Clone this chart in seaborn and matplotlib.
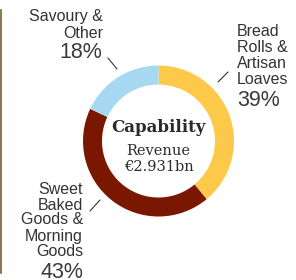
import numpy as np
import matplotlib
matplotlib.use("Agg")
import matplotlib.pyplot as plt
import seaborn as sns

segments = ["Bread Rolls & Artisan Loaves", "Sweet Baked Goods & Morning Goods", "Savoury & Other"]
shares = [39, 43, 18]
colors = ["#fdc94a", "#7a1700", "#a7d8f1"]
title = "Capability"
subtitle = ["Revenue", "€2.931bn"]

sns.set_theme(style="white")
plt.rcParams['font.family'] = ['Liberation Sans Narrow', 'Liberation Sans', 'DejaVu Sans']

fig = plt.figure(figsize=(2.96, 2.80), dpi=100)
ax = fig.add_axes([0, 0, 1, 1])

H = 280
cx, cy, r = 158.5, H - 141, 75.5
ax.pie(shares, colors=colors, startangle=90, counterclock=False,
       center=(cx, cy), radius=r, wedgeprops=dict(width=19, linewidth=0),
       frame=True)
ax.set_xlim(0, 296)
ax.set_ylim(0, 280)
ax.axis('off')

# left rule
ax.plot([1, 1], [H - 10, H - 273], color="#8a7a52", lw=1.5)

# centre text
ax.text(cx, H - 128, title, ha='center', va='center', fontsize=12,
        fontweight='bold', family=['DejaVu Serif'], color="#2b2b2b")
ax.text(cx, H - 151, subtitle[0], ha='center', va='center', fontsize=10.5,
        family=['DejaVu Serif'], color="#2b2b2b")
ax.text(cx, H - 167, subtitle[1], ha='center', va='center', fontsize=10.5,
        family=['DejaVu Serif'], color="#2b2b2b")


def label(x, ys, lines, ha):
    for y, s in zip(ys, lines):
        ax.text(x, H - y, s, ha=ha, va='center', fontsize=11.5, color="#333333")


def pct(x, y, v, ha):
    ax.text(x, H - y, f"{v}%", ha=ha, va='center', fontsize=15.5, color="#3a3a3a",
            fontweight='light')


# Savoury & Other
label(103, [17, 33], ["Savoury &", "Other"], 'right')
pct(102, 53, shares[2], 'right')
ax.plot([108, 117], [H - 58, H - 69], color="#333333", lw=0.8)

# Bread
label(237, [32, 48, 64, 80], ["Bread", "Rolls &", "Artisan", "Loaves"], 'left')
pct(237, 101, shares[0], 'left')
ax.plot([218, 228], [H - 82, H - 72], color="#333333", lw=0.8)

# Sweet
label(83, [189, 205, 220, 236, 252], ["Sweet", "Baked", "Goods &", "Morning", "Goods"], 'right')
pct(83, 273, shares[1], 'right')
ax.plot([90, 100], [H - 211, H - 200], color="#333333", lw=0.8)

fig.savefig("out.png", dpi=100)
